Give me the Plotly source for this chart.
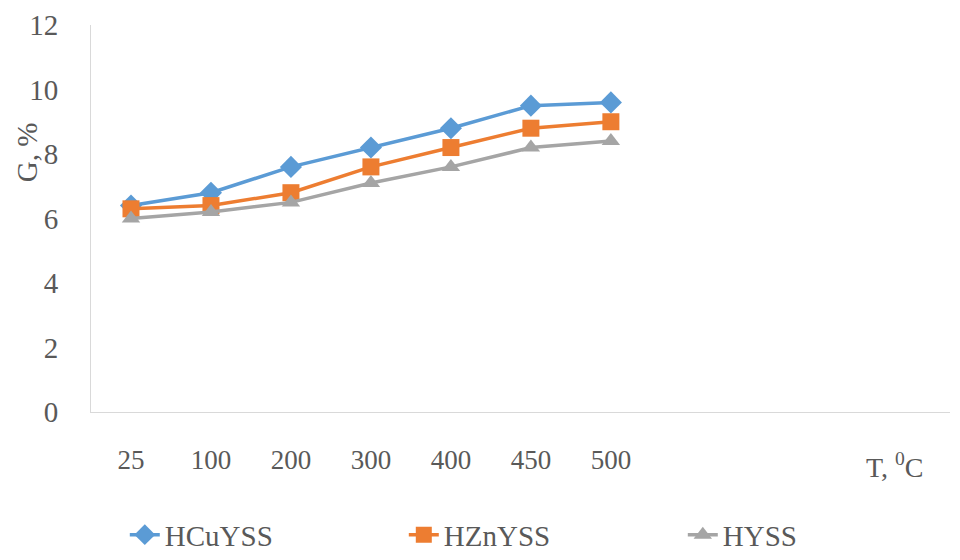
import plotly.graph_objects as go

temps = ["25", "100", "200", "300", "400", "450", "500"]
hcuyss = [6.4, 6.8, 7.6, 8.2, 8.8, 9.5, 9.6]
hznyss = [6.3, 6.4, 6.8, 7.6, 8.2, 8.8, 9.0]
hyss = [6.0, 6.2, 6.5, 7.1, 7.6, 8.2, 8.4]

series = [
    ("HCuYSS", hcuyss, "#5B9BD5", "diamond", 17),
    ("HZnYSS", hznyss, "#ED7D31", "square", 17),
    ("HYSS", hyss, "#A5A5A5", "triangle-up", 16),
]

FONT = "Liberation Serif"
TXT = "#595959"

fig = go.Figure()
for name, vals, color, sym, size in series:
    fig.add_trace(go.Scatter(
        x=temps, y=vals, name=name, mode="lines+markers",
        line=dict(color=color, width=3.5),
        marker=dict(symbol=sym, size=size, color=color),
    ))

fig.update_layout(
    width=960, height=560,
    margin=dict(l=91, r=10, t=25, b=148),
    paper_bgcolor="white", plot_bgcolor="white",
    font=dict(family=FONT, color=TXT),
    showlegend=True,
    legend=dict(
        orientation="h", xref="container", yref="container",
        x=0.13, y=0.045, xanchor="left", yanchor="middle",
        entrywidth=234, entrywidthmode="pixels",
        font=dict(size=29, family=FONT, color=TXT),
        itemsizing="trace",
    ),
    xaxis=dict(
        type="category", range=[-0.5, 10.24],
        showgrid=False, showline=True, linecolor="#D9D9D9", linewidth=1,
        ticks="", ticklabelstandoff=24,
        tickfont=dict(size=27, family=FONT, color=TXT),
        zeroline=False,
    ),
    yaxis=dict(
        range=[0, 12], tickvals=[0, 2, 4, 6, 8, 10, 12],
        showgrid=False, showline=True, linecolor="#D9D9D9", linewidth=1,
        ticks="", ticklabelstandoff=26,
        tickfont=dict(size=29, family=FONT, color=TXT),
        zeroline=False,
    ),
    annotations=[
        dict(text="G, %", xref="paper", yref="paper", x=-0.075, y=0.67,
             xanchor="center", yanchor="middle", textangle=-90,
             showarrow=False, font=dict(size=29, family=FONT, color=TXT)),
        dict(text="T, <sup>0</sup>C", xref="paper", yref="paper",
             x=0.936, y=-0.137, xanchor="center", yanchor="middle",
             showarrow=False, font=dict(size=28, family=FONT, color=TXT)),
    ],
)

fig.write_html("out.html")
